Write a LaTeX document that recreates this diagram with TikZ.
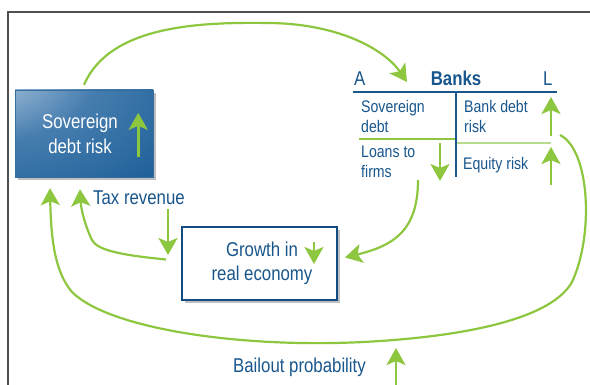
\documentclass[tikz,border=0pt]{standalone}
\usepackage{fontspec}
\setmainfont{Liberation Sans}[FakeStretch=0.84]
\usetikzlibrary{arrows.meta,shadows,positioning}

\definecolor{textblue}{RGB}{24,86,140}
\definecolor{boxblue}{RGB}{18,76,128}
\definecolor{sovlight}{RGB}{226,236,245}
\definecolor{sovmid}{RGB}{70,125,175}
\definecolor{sovdark}{RGB}{0,74,134}
\definecolor{arrgreen}{RGB}{141,198,63}
\definecolor{palegreen}{RGB}{182,221,140}
\definecolor{framegray}{RGB}{80,80,80}

% light corner top left, dark towards bottom right
\pgfdeclareradialshading{sovshade}{\pgfpoint{-48bp}{48bp}}{color(0bp)=(sovlight); color(40bp)=(sovmid); color(95bp)=(sovdark); color(150bp)=(sovdark)}

\tikzset{
  flow/.style = {draw=arrgreen, line width=2.2pt, -{Stealth[length=17pt,width=19pt,inset=4pt]}},
  trend/.style = {draw=arrgreen, line width=2.6pt, -{Stealth[length=17pt,width=19pt,inset=4pt]}},
  label/.style = {text=textblue, inner sep=0pt},
  cell/.style = {label, font=\fontsize{16.8}{20}\selectfont, align=left, anchor=base west},
}

\begin{document}
\begin{tikzpicture}[x=1pt, y=-1pt, font=\fontsize{20}{24}\selectfont]
\useasboundingbox (0,0) rectangle (590,385);
\draw[framegray, line width=1.4pt] (8,385) -- (8,12) -- (590,12);

% sovereign box
\node (sov) [shading=sovshade, draw=sovdark!80, minimum width=138pt, minimum height=87pt,
  text=white, align=center, font=\fontsize{20}{25}\selectfont,
  drop shadow={shadow xshift=3pt, shadow yshift=-3pt, opacity=.5}] at (84,133.5)
  {Sovereign\hspace*{8pt}\\debt risk\hspace*{8pt}};
\draw[trend] ([xshift=-15pt,yshift=20pt]sov.south east) -- ([xshift=-15pt,yshift=-23pt]sov.north east);

% growth box
\node (growth) [draw=boxblue, line width=2pt, fill=white, minimum width=155pt, minimum height=73pt,
  align=center, text=textblue,
  drop shadow={shadow xshift=3pt, shadow yshift=-3pt, opacity=.5}] at (259.5,263.5)
  {\hspace*{5pt}Growth in\\\hspace*{5pt}real economy};
\draw[trend] (314,242) -- (314,264);

% banks balance sheet
\node (banks) [label, font=\fontsize{20}{24}\selectfont\bfseries, anchor=base] at (456,86) {Banks};
\node (assets) [label, anchor=base west] at (354,86) {A};
\node (liab) [label, anchor=base west] at (543,86) {L};
\draw[textblue, line width=1.8pt] (353,92) -- (557,92);
\draw[textblue, line width=2pt] (456,92) -- (456,177);
\draw[arrgreen, line width=1.5pt] (359,139) -- (455,139);
\draw[palegreen, line width=2pt] (457,143) -- (551,143);
\node (sovdebt) [cell] at (361,133) {Sovereign\\debt};
\node (loans) [cell] at (361,178) {Loans to\\firms};
\node (bankdebt) [cell] at (464,133) {Bank debt\\risk};
\node (equity) [cell] at (463,170) {Equity risk};
\draw[trend] (440,143) -- (440,181);
\draw[trend] (551,136) -- (551,97);
\draw[trend] (551,185) -- (551,147);

% other labels
\node (tax) [label, anchor=base west] at (93,205) {Tax revenue};
\node (bailout) [label, anchor=base west] at (233,372) {Bailout probability};
\draw[trend] (168,209) -- (168,255);
\draw[trend] (396,385) -- (396,348);

\coordinate (bankin) at (407,82);
\coordinate (loansout) at (418,180);
\coordinate (bankout) at (560,135);

% feedback loops
\draw[flow] ([yshift=5pt]sov.north) .. controls (110,25) and (200,22) .. (270,23)
  .. controls (340,24) and (385,50) .. (bankin);
\draw[flow] (loansout) .. controls (418,232) and (392,246) .. ([xshift=7pt,yshift=6pt]growth.east);
\draw[flow] ([xshift=-15pt,yshift=4pt]growth.west) .. controls (120,255) and (97,250) .. (92,240)
  .. controls (86,228) and (81,210) .. ([xshift=-4pt,yshift=-12pt]sov.south);
\draw[flow] (bankout) .. controls (590,150) and (594,235) .. (572,282)
  .. controls (552,318) and (470,335) .. (380,341)
  .. controls (250,350) and (110,330) .. (72,292)
  .. controls (55,272) and (51,240) .. ([xshift=-34pt,yshift=-11pt]sov.south);
\end{tikzpicture}
\end{document}
